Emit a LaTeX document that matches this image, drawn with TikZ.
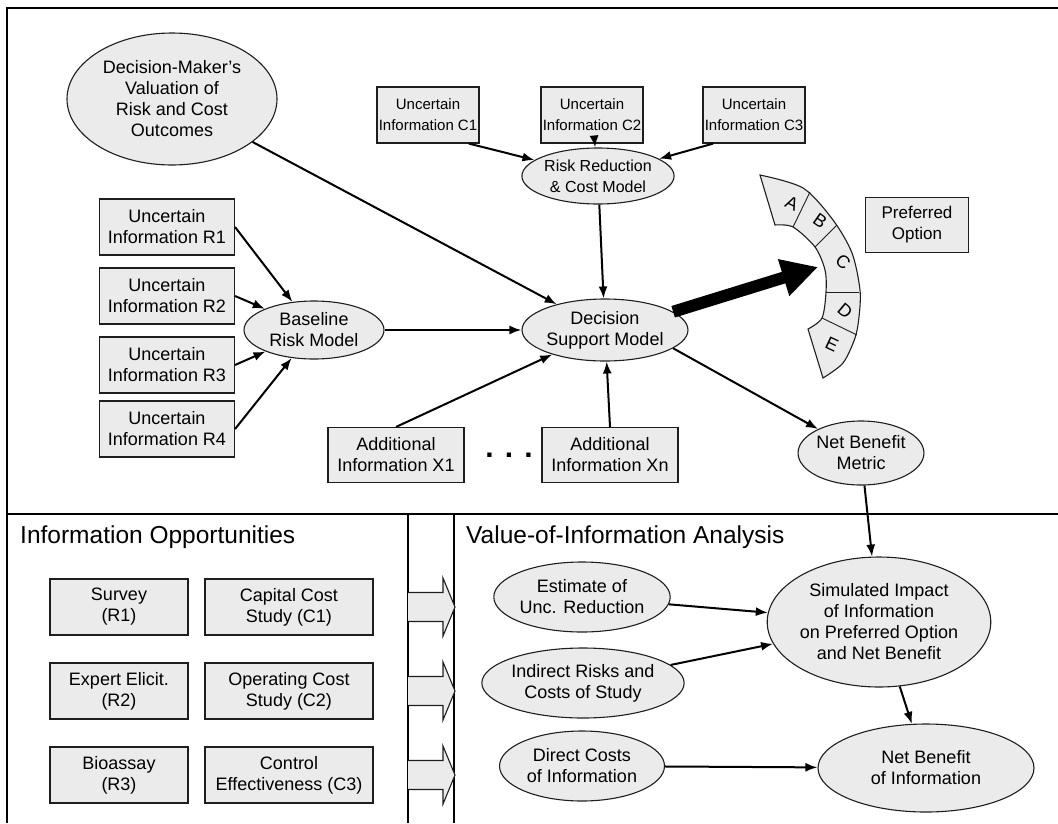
\documentclass[tikz,border=0pt]{standalone}
\usepackage{fontspec}
\setmainfont{Liberation Sans}
\usetikzlibrary{arrows.meta,shapes.geometric}
\definecolor{boxfill}{RGB}{235,235,235}
\definecolor{edge}{RGB}{30,30,30}
\begin{document}
\begin{tikzpicture}[x=1pt,y=-1pt,
  every node/.style={font=\fontsize{18}{21}\selectfont, align=center, inner sep=0pt, text=black},
  infobox/.style={draw=edge, fill=boxfill, line width=1.1pt, minimum height=56pt},
  smalltext/.style={font=\fontsize{15}{21}\selectfont},
  oval/.style={ellipse, draw=edge, fill=boxfill, line width=1.1pt},
  link/.style={-{Latex[length=12pt,width=9pt]}, line width=2pt},
  panel/.style={line width=1.8pt},
  title/.style={anchor=west, font=\fontsize{24.5}{28}\selectfont},
  blockarrow/.style={draw=edge, fill=boxfill, line width=1.1pt},
  letter/.style={font=\fontsize{18}{21}\selectfont}
]
\useasboundingbox (0,0) rectangle (1058,823);

% ---------- panel frame ----------
\draw[panel] (1058,8) -- (7,8) -- (7,823);
\draw[panel] (7,514) -- (1058,514);
\draw[panel] (408,514) -- (408,823);
\draw[panel] (454,514) -- (454,823);

% ---------- decision model ----------
\node[oval, minimum width=210pt, minimum height=132pt] (dm) at (172,99)
  {Decision-Maker’s\\Valuation of\\Risk and Cost\\Outcomes};

\node[infobox, smalltext, minimum width=102pt] (c1) at (428,115) {Uncertain\\Information C1};
\node[infobox, smalltext, minimum width=102pt] (c2) at (592,115) {Uncertain\\Information C2};
\node[infobox, smalltext, minimum width=102pt] (c3) at (754,115) {Uncertain\\Information C3};

\node[oval, font=\fontsize{16}{21}\selectfont, minimum width=140pt, minimum height=56pt] (rr) at (598,176)
  {Risk Reduction\\\& Cost Model};

\node[infobox, minimum width=135pt] (r1) at (167,227) {Uncertain\\Information R1};
\node[infobox, minimum width=135pt] (r2) at (167,296) {Uncertain\\Information R2};
\node[infobox, minimum width=135pt] (r3) at (167,365) {Uncertain\\Information R3};
\node[infobox, minimum width=135pt] (r4) at (167,429) {Uncertain\\Information R4};

\node[oval, minimum width=140pt, minimum height=58pt] (bl) at (314,330) {Baseline\\Risk Model};
\node[oval, minimum width=166pt, minimum height=62pt] (dsm) at (605,330) {Decision\\Support Model};

\node[infobox, minimum width=136pt, minimum height=55pt] (x1) at (396,455) {Additional\\Information X1};
\node[infobox, minimum width=136pt, minimum height=55pt] (xn) at (610,455) {Additional\\Information Xn};
\node[font=\fontsize{30}{30}\selectfont\bfseries] (dots) at (509,455) {. . .};

\node[infobox, font=\fontsize{17}{21}\selectfont, minimum width=103pt, minimum height=55pt] (pref) at (917,225)
  {Preferred\\Option};

\node[oval, minimum width=112pt, minimum height=64pt] (nbm) at (861,453) {Net Benefit\\Metric};

% ---------- option arc A--E ----------
\filldraw[fill=boxfill, draw=edge, line width=1.1pt]
  (760,175) -- plot[smooth] coordinates {(760,175) (803,188) (833,220) (852,253) (860,290) (859,317) (855,338) (843,363) (823,378)}
  -- (808,329)
  -- plot[smooth] coordinates {(808,329) (822,318) (826,292) (825,270) (815,247) (793,227) (775,225)}
  -- cycle;
\draw[draw=edge, line width=0.9pt] (793,227) -- (810,192);
\draw[draw=edge, line width=0.9pt] (815,247) -- (837,225);
\draw[draw=edge, line width=0.9pt] (826,292) -- (859,292);
\draw[draw=edge, line width=0.9pt] (822,318) -- (857,335);
\node[letter, rotate=-25] (optA) at (792,203) {A};
\node[letter, rotate=-35] (optB) at (820,221) {B};
\node[letter, rotate=-40] (optC) at (843,262) {C};
\node[letter, rotate=-40] (optD) at (845,311) {D};
\node[letter, rotate=-25] (optE) at (832,344) {E};
\coordinate (ptr) at (818,267);

% ---------- top connectors ----------
\draw[link] (dm) -- (dsm);
\draw[link] (c1.-35) -- (rr);
\draw[link] (c2) -- (rr);
\draw[link] (c3.-145) -- (rr);
\draw[link] (rr) -- (dsm);
\draw[link] (r1.east) -- (bl);
\draw[link] (r2.east) -- (bl);
\draw[link] (r3.east) -- (bl);
\draw[link] (r4.east) -- (bl);
\draw[link] (bl) -- (dsm);
\draw[link] (x1.north) -- (dsm);
\draw[link] (xn.north) -- (dsm);
\draw[link] (dsm.-15) -- (nbm);
\draw[line width=12pt, -{Triangle[length=36pt,width=36pt]}] (dsm.15) -- (ptr);

% ---------- information opportunities ----------
\node[title] (ioTitle) at (20,537) {Information Opportunities};
\node[infobox, minimum width=138pt] (s1) at (119,607) {Survey\\(R1)};
\node[infobox, minimum width=168pt] (s2) at (289,607) {Capital Cost\\Study (C1)};
\node[infobox, minimum width=138pt] (s3) at (119,691) {Expert Elicit.\\(R2)};
\node[infobox, minimum width=168pt] (s4) at (289,691) {Operating Cost\\Study (C2)};
\node[infobox, minimum width=138pt] (s5) at (119,775) {Bioassay\\(R3)};
\node[infobox, minimum width=168pt] (s6) at (289,775) {Control\\Effectiveness (C3)};

\foreach \yy in {607,691,775} {
  \filldraw[blockarrow] (408,\yy-14.5) -- (443,\yy-14.5) -- (443,\yy-29) -- (455,\yy)
    -- (443,\yy+29) -- (443,\yy+14.5) -- (408,\yy+14.5);
}

% ---------- value of information ----------
\node[title] (voiTitle) at (466,537) {Value-of-Information Analysis};
\node[oval, minimum width=165pt, minimum height=70pt] (est) at (582,597) {Estimate of\\Unc. Reduction};
\node[oval, minimum width=170pt, minimum height=70pt] (ind) at (583,683) {Indirect Risks and\\Costs of Study};
\node[oval, minimum width=165pt, minimum height=70pt] (dir) at (582,766) {Direct Costs\\of Information};
\node[oval, minimum width=194pt, minimum height=130pt] (sim) at (879,622)
  {Simulated Impact\\of Information\\on Preferred Option\\and Net Benefit};
\node[oval, minimum width=216pt, minimum height=88pt] (nbi) at (926,768) {Net Benefit\\of Information};

\draw[link] (nbm) -- (sim);
\draw[link] (est) -- (sim);
\draw[link] (ind) -- (sim);
\draw[link] (dir) -- (nbi);
\draw[link] (sim) -- (nbi);
\end{tikzpicture}
\end{document}
